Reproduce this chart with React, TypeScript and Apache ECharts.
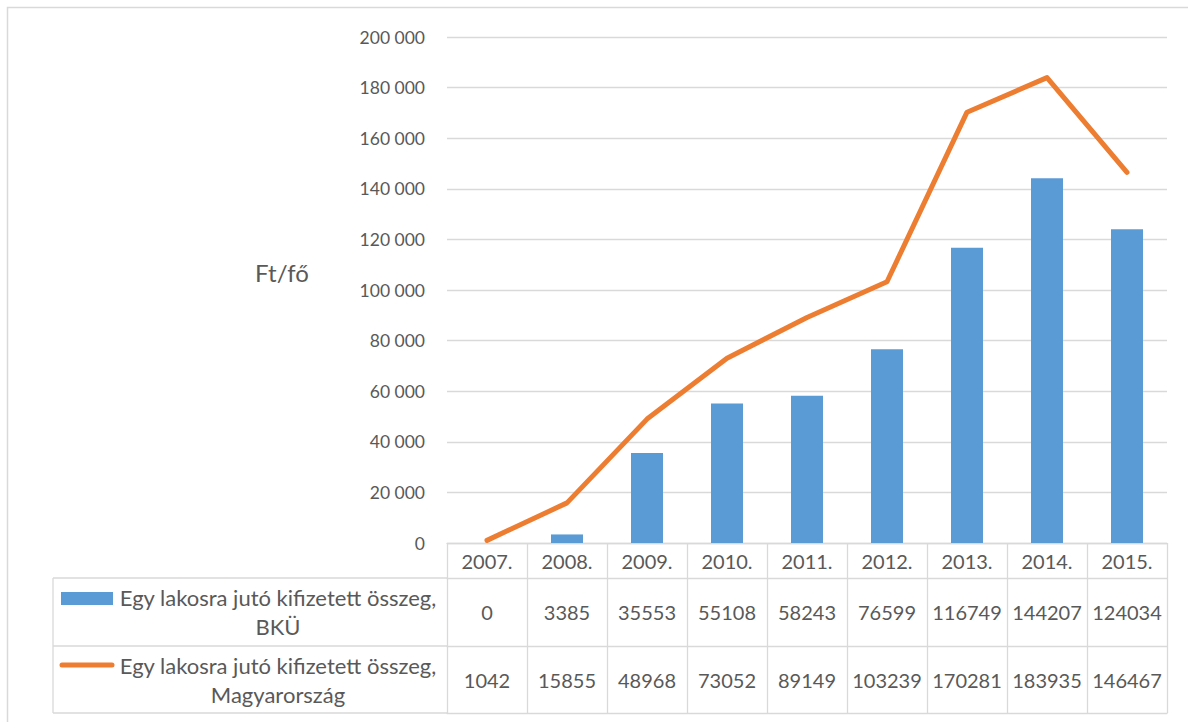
import React, { useEffect, useRef } from "react";
import * as echarts from "echarts";

const years = ["2007.", "2008.", "2009.", "2010.", "2011.", "2012.", "2013.", "2014.", "2015."];
const bku = [0, 3385, 35553, 55108, 58243, 76599, 116749, 144207, 124034];
const hungary = [1042, 15855, 48968, 73052, 89149, 103239, 170281, 183935, 146467];
const seriesNames = [
  "Egy lakosra jutó kifizetett összeg,\nBKÜ",
  "Egy lakosra jutó kifizetett összeg,\nMagyarország",
];
const unitLabel = "Ft/fő";
const yMax = 200000;
const yStep = 20000;

const FONT = "Lato, 'Open Sans', sans-serif";
const TEXT = "#595959";
const GRID = "#d9d9d9";
const BLUE = "#5B9BD5";
const ORANGE = "#ED7D31";

const fmt = (v: number) => String(v).replace(/\B(?=(\d{3})+(?!\d))/g, " ");

export default function App() {
  const ref = useRef<HTMLDivElement>(null);
  useEffect(() => {
    document.body.style.margin = "0";
    const chart = echarts.init(ref.current!, null, { renderer: "svg" });
    const left = 447, right = 1167, top = 37, zeroY = 543;
    const row1 = 578, row2 = 646, bottom = 713;
    const tableLeft = 53;
    const catAxisBase = {
      type: "category" as const,
      data: years,
      position: "bottom" as const,
      axisLine: { show: true, lineStyle: { color: GRID, width: 1.3 } },
      axisTick: { show: false },
    };
    chart.setOption({
      animation: false,
      grid: { left, right: 1188 - right, top, bottom: 722 - zeroY, containLabel: false },
      xAxis: [
        {
          ...catAxisBase,
          axisTick: { show: true, length: bottom - zeroY, interval: 0, lineStyle: { color: GRID, width: 1.3 } },
          axisLabel: { color: TEXT, fontSize: 20, fontFamily: FONT, margin: 8, interval: 0 },
        },
        {
          ...catAxisBase,
          offset: row1 - zeroY,
          axisLabel: {
            color: TEXT, fontSize: 20, fontFamily: FONT, margin: 24, interval: 0,
            formatter: (_v: string, i: number) => String(bku[i]),
          },
        },
        {
          ...catAxisBase,
          offset: row2 - zeroY,
          axisLabel: {
            color: TEXT, fontSize: 20, fontFamily: FONT, margin: 24, interval: 0,
            formatter: (_v: string, i: number) => String(hungary[i]),
          },
        },
        {
          ...catAxisBase,
          offset: bottom - zeroY,
          axisLabel: { show: false },
        },
      ],
      yAxis: {
        type: "value",
        min: 0,
        max: yMax,
        interval: yStep,
        axisLine: { show: false },
        axisTick: { show: false },
        splitLine: { lineStyle: { color: GRID, width: 1.3 } },
        axisLabel: { color: TEXT, fontSize: 17.5, fontFamily: FONT, margin: 22, formatter: (v: number) => fmt(v) },
      },
      series: [
        {
          name: seriesNames[0],
          type: "bar",
          data: bku,
          xAxisIndex: 0,
          barWidth: "40%",
          itemStyle: { color: BLUE },
        },
        {
          name: seriesNames[1],
          type: "line",
          data: hungary,
          xAxisIndex: 0,
          symbol: "none",
          lineStyle: { color: ORANGE, width: 5, cap: "round", join: "round" },
        },
      ],
      graphic: [
        {
          type: "rect", silent: true,
          shape: { x: 7.5, y: 7.5, width: 1400, height: 900 },
          style: { fill: "none", stroke: GRID, lineWidth: 1.5 },
        },
        {
          type: "text", x: 282, y: 272,
          style: { text: unitLabel, fill: TEXT, fontSize: 24, fontFamily: FONT, align: "center", verticalAlign: "middle" },
        },
        { type: "line", shape: { x1: tableLeft, y1: row1, x2: left, y2: row1 }, style: { stroke: GRID, lineWidth: 1.3 } },
        { type: "line", shape: { x1: tableLeft, y1: row2, x2: left, y2: row2 }, style: { stroke: GRID, lineWidth: 1.3 } },
        { type: "line", shape: { x1: tableLeft, y1: bottom, x2: left, y2: bottom }, style: { stroke: GRID, lineWidth: 1.3 } },
        { type: "line", shape: { x1: tableLeft, y1: row1, x2: tableLeft, y2: bottom }, style: { stroke: GRID, lineWidth: 1.3 } },
        { type: "rect", shape: { x: 61, y: 592, width: 52, height: 13 }, style: { fill: BLUE } },
        {
          type: "line", shape: { x1: 62, y1: 665, x2: 112, y2: 665 },
          style: { stroke: ORANGE, lineWidth: 5, lineCap: "round" },
        },
        {
          type: "text", x: 278, y: 612,
          style: { text: seriesNames[0], fill: TEXT, fontSize: 22, fontFamily: FONT, align: "center", verticalAlign: "middle", lineHeight: 29 },
        },
        {
          type: "text", x: 278, y: 680,
          style: { text: seriesNames[1], fill: TEXT, fontSize: 22, fontFamily: FONT, align: "center", verticalAlign: "middle", lineHeight: 29 },
        },
      ],
    });
    return () => chart.dispose();
  }, []);
  return <div ref={ref} style={{ width: 1188, height: 722 }} />;
}
